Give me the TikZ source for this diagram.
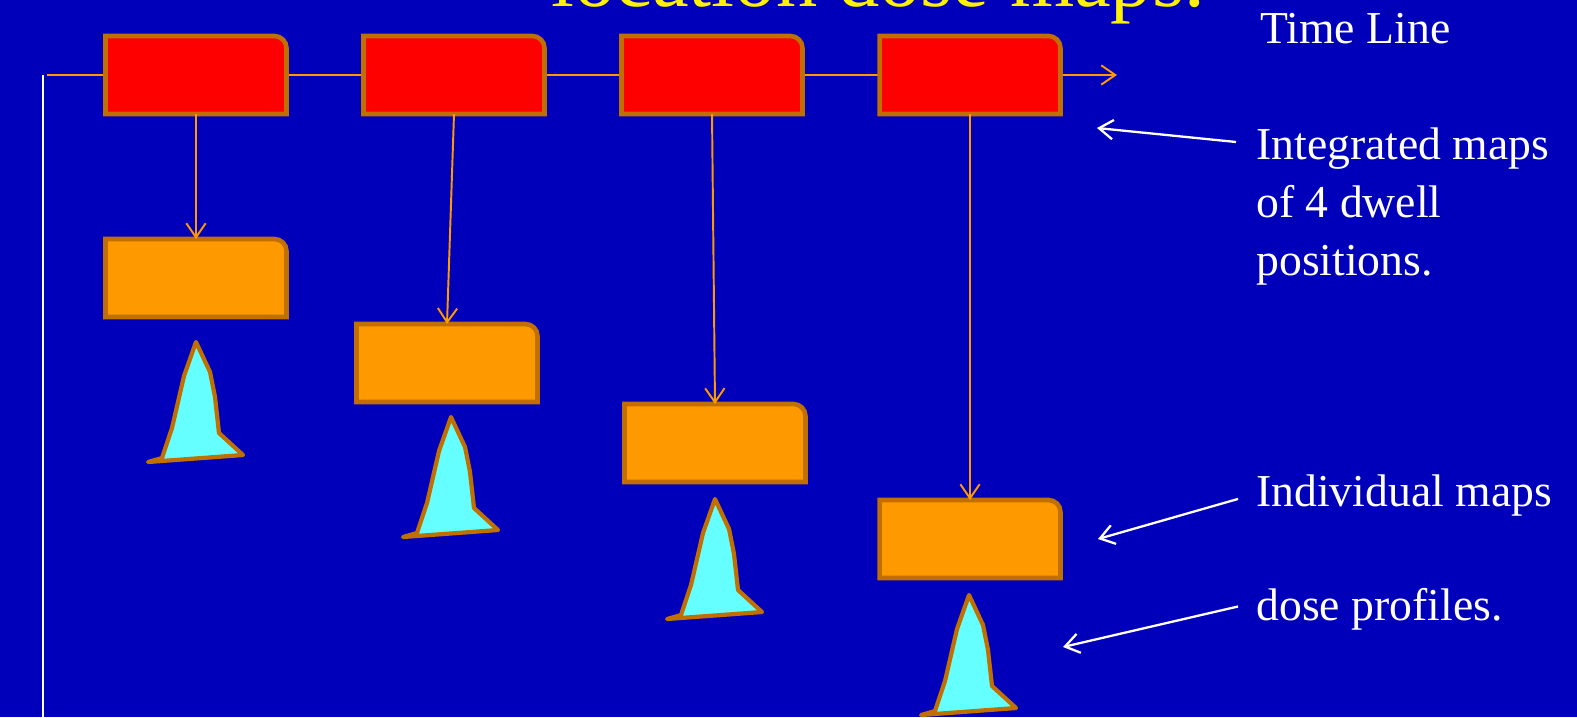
\documentclass[tikz,border=0pt]{standalone}
\usepackage{fontspec}
\setmainfont{Liberation Serif}
\usetikzlibrary{arrows.meta,calc}
\definecolor{slideblue}{HTML}{0000BB}
\definecolor{edgebrown}{HTML}{C07000}
\definecolor{maporange}{HTML}{FF9900}
\definecolor{profilecyan}{HTML}{66FFFF}
\begin{document}
\begin{tikzpicture}[x=0.02cm, y=-0.02cm,
  mapnode/.style={minimum width=3.62cm, minimum height=1.56cm, inner sep=0pt, outer sep=0pt},
  mapedge/.style={draw=edgebrown, line width=2.6pt},
  feed/.style={draw=maporange, line width=1.1pt, -{Straight Barb[length=8pt,width=11pt]}},
  pointer/.style={draw=white, line width=1.3pt, -{Straight Barb[length=8pt,width=11pt]}},
  profile/.style={draw=edgebrown, fill=profilecyan, line width=2.4pt, line join=round},
  sidetext/.style={text=white, font=\fontsize{26}{33}\selectfont, inner sep=0pt, align=left, anchor=base west}]
  \useasboundingbox (0,0) rectangle (1577,717);
  \clip (0,0) rectangle (1577,717);
  \fill[slideblue] (0,0) rectangle (1577,717);
  \node[text=yellow, font=\fontsize{47}{56}\selectfont, anchor=base west, inner sep=0pt] (title) at (551,6) {location dose maps.};
  \foreach \i/\x in {1/196,2/454,3/712,4/970}
    \node[mapnode] (int\i) at (\x,75) {};
  \foreach \i/\x/\y in {1/196/278,2/447/363,3/715/443,4/970/539}
    \node[mapnode] (ind\i) at (\x,\y) {};
  \coordinate (tlstart) at (47,75);
  \coordinate (tlend) at (1117,75);
  \draw[feed] (tlstart) -- (tlend);
  \foreach \n/\c in {int1/red,int2/red,int3/red,int4/red,ind1/maporange,ind2/maporange,ind3/maporange,ind4/maporange}
    \draw[mapedge, fill=\c] (\n.south west) -- (\n.north west) [rounded corners=0.24cm] -- (\n.north east) [sharp corners] -- (\n.south east) -- cycle;
  \foreach \i in {1,...,4}
    \draw[feed] (int\i.south) -- (ind\i.north);
  \foreach \i/\x/\y in {1/196/342,2/451/417,3/715/499,4/969/595}
    \draw[profile, shift={(\x,\y)}] (0,0) -- (14,30) -- (19,55) -- (23,91) -- (47,113) -- (-48,120) -- (-34,116) -- (-24,86) -- (-12,34) -- cycle;
  \coordinate (axtop) at (43,75);
  \coordinate (axbot) at (43,717);
  \draw[white, line width=1.6pt] (axtop) -- (axbot);
  \node[sidetext] (tline) at (1260,43) {Time Line};
  \node[sidetext] (integ) at (1256,275) {Integrated maps\\of 4 dwell\\positions.};
  \node[sidetext] (indiv) at (1256,506) {Individual maps};
  \node[sidetext] (dprof) at (1256,620) {dose profiles.};
  \coordinate (integtip) at (1097,128);
  \coordinate (indivtip) at (1098,539);
  \coordinate (dproftip) at (1063,647);
  \draw[pointer] ($(integ.north west)+(-20,15)$) -- (integtip);
  \draw[pointer] ($(indiv.north west)+(-18,25)$) -- (indivtip);
  \draw[pointer] ($(dprof.north west)+(-18,19)$) -- (dproftip);
\end{tikzpicture}
\end{document}
